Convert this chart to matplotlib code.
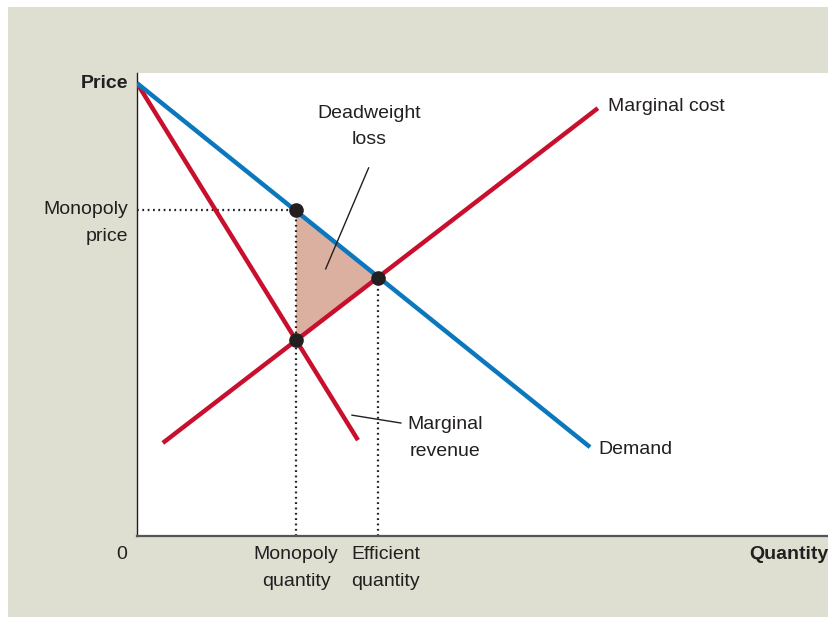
import numpy as np
import matplotlib
matplotlib.use("Agg")
import matplotlib.pyplot as plt
from matplotlib.patches import Rectangle, Polygon

plt.rcParams['font.family'] = ['Liberation Sans', 'DejaVu Sans']

# curves: endpoints (quantity, price)
demand_q = [0.0, 9.82]
demand_p = [9.78, 1.92]
mr_q = [0.0, 4.79]
mr_p = [9.78, 2.07]
mc_q = [0.56, 9.99]
mc_p = [2.01, 9.24]

# key points
mono_q, mono_p = 3.45, 7.04
mono_mc_p = 4.23
eff_q, eff_p = 5.22, 5.57

blue = '#0b77bd'
red = '#c8102e'
shade = '#dcb0a0'
ink = '#231f20'

fig = plt.figure(figsize=(8.29, 6.17), dpi=100)
fig.patches.append(Rectangle((8/829, 0), 1 - 8/829, 610/617, transform=fig.transFigure,
                             facecolor='#dedfd1', edgecolor='none', zorder=-5))
ax = fig.add_axes([137/829, 81/617, 692/829, 463/617])
ax.set_xlim(0, 15)
ax.set_ylim(0, 10)
ax.set_facecolor('white')

# deadweight loss triangle
ax.add_patch(Polygon([[mono_q, mono_p], [eff_q, eff_p], [mono_q, mono_mc_p]],
                     closed=True, facecolor=shade, edgecolor='none', zorder=1))

# dotted guides
dots = dict(color=ink, lw=1.6, linestyle=(0, (0.8, 1.6)), zorder=2)
ax.plot([0, mono_q], [mono_p, mono_p], **dots)
ax.plot([mono_q, mono_q], [0, mono_p], **dots)
ax.plot([eff_q, eff_q], [0, eff_p], **dots)

ax.plot(mc_q, mc_p, color=red, lw=3.2, solid_capstyle='butt', zorder=3)
ax.plot(mr_q, mr_p, color=red, lw=3.2, solid_capstyle='butt', zorder=3)
ax.plot(demand_q, demand_p, color=blue, lw=3.2, solid_capstyle='butt', zorder=4)

ax.plot([mono_q, eff_q, mono_q], [mono_p, eff_p, mono_mc_p], 'o', color=ink,
        markersize=9.5, zorder=5)

# leader lines
ax.plot([4.09, 5.02], [5.77, 7.95], color=ink, lw=1, zorder=6)
ax.plot([4.66, 5.72], [2.61, 2.44], color=ink, lw=1, zorder=6)

fs = 14
ls = 1.72
ax.text(5.04, 8.84, 'Deadweight\nloss', ha='center', va='center', fontsize=fs,
        color=ink, linespacing=ls)
ax.text(10.2, 9.27, 'Marginal cost', ha='left', va='center', fontsize=fs, color=ink)
ax.text(10.0, 1.87, 'Demand', ha='left', va='center', fontsize=fs, color=ink)
ax.text(6.68, 2.12, 'Marginal\nrevenue', ha='center', va='center', fontsize=fs,
        color=ink, linespacing=ls)

# axis labels outside the plot
ax.text(-0.2, 9.78, 'Price', ha='right', va='center', fontsize=fs,
        fontweight='bold', color=ink, clip_on=False)
ax.text(-0.2, mono_p + 0.2, 'Monopoly\nprice', ha='right', va='top', fontsize=fs,
        color=ink, linespacing=1.76, clip_on=False)
ax.text(-0.33, -0.4, '0', ha='center', va='center', fontsize=fs, color=ink, clip_on=False)
ax.text(15.0, -0.4, 'Quantity', ha='right', va='center', fontsize=fs,
        fontweight='bold', color=ink, clip_on=False)
ax.text(mono_q, -0.22, 'Monopoly\nquantity', ha='center', va='top', fontsize=fs,
        color=ink, linespacing=1.78, clip_on=False)
ax.text(eff_q + 0.17, -0.22, 'Efficient\nquantity', ha='center', va='top', fontsize=fs,
        color=ink, linespacing=1.78, clip_on=False)

ax.set_xticks([])
ax.set_yticks([])
ax.spines['top'].set_visible(False)
ax.spines['right'].set_visible(False)
ax.spines['left'].set_color(ink)
ax.spines['left'].set_linewidth(1.0)
ax.spines['bottom'].set_color('#555555')
ax.spines['bottom'].set_linewidth(1.6)

fig.savefig('out.png', dpi=100)
